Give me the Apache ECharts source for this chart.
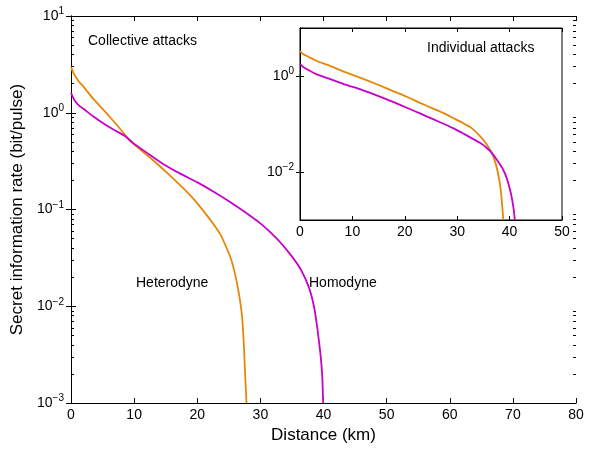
<!DOCTYPE html>
<html><head><meta charset="utf-8">
<script src="https://cdn.jsdelivr.net/npm/echarts@6/dist/echarts.min.js"></script>
<style>html,body{margin:0;padding:0;background:#fff}#c{width:595px;height:449px}</style>
</head><body><div id="c"></div>
<script>
// Main panel (collective attacks)
const mainHetX = [0, 0.3, 0.6, 1.2, 2.2, 3.5, 5.4, 7.4, 9.4, 12.5, 15.7, 18.9, 21.5, 23.7, 25.2, 26.0, 26.6, 27.1, 27.4, 27.6, 27.8];
const mainHetY = [2.96, 2.65, 2.44, 2.12, 1.79, 1.40, 1.03, 0.73, 0.51, 0.345, 0.224, 0.140, 0.0875, 0.0547, 0.0329, 0.0214, 0.0135, 0.0078, 0.0038, 0.0019, 0.001];
const mainHomX = [0, 0.3, 0.6, 1.2, 2.2, 3.5, 5.4, 7.0, 8.6, 9.9, 12.3, 14.65, 17.3, 19.95, 22.6, 25.2, 27.6, 30.0, 32.5, 34.8, 36.4, 37.7, 38.5, 39.0, 39.5, 39.8, 39.95];
const mainHomY = [1.61, 1.45, 1.33, 1.20, 1.07, 0.92, 0.755, 0.655, 0.573, 0.483, 0.375, 0.294, 0.235, 0.192, 0.153, 0.12, 0.094, 0.072, 0.051, 0.034, 0.024, 0.0156, 0.0099, 0.0061, 0.0033, 0.0019, 0.001];
// Inset (individual attacks)
const insHetX = [0, 0.5, 1.6, 3.2, 5.4, 8.5, 11.8, 15.0, 18.1, 20.5, 22.9, 25.4, 27.4, 29.3, 31.0, 32.7, 34.4, 35.6, 36.6, 37.3, 37.8, 38.2, 38.5, 38.8];
const insHetY = [3.31, 2.92, 2.51, 2.05, 1.69, 1.22, 0.89, 0.65, 0.468, 0.365, 0.275, 0.209, 0.168, 0.132, 0.106, 0.083, 0.055, 0.038, 0.0251, 0.0155, 0.0093, 0.0052, 0.0026, 0.001];
const insHomX = [0, 0.5, 1.6, 3.2, 5.4, 8.5, 11.8, 15.0, 18.1, 20.5, 22.9, 25.4, 27.4, 29.3, 31.8, 34.4, 35.6, 36.6, 37.8, 38.8, 39.5, 40.1, 40.5, 40.8, 41.0];
const insHomY = [1.78, 1.58, 1.33, 1.08, 0.89, 0.67, 0.513, 0.38, 0.278, 0.215, 0.166, 0.126, 0.101, 0.081, 0.058, 0.040, 0.032, 0.0251, 0.0165, 0.011, 0.0072, 0.0042, 0.0026, 0.0016, 0.001];
const mainXTicks = [0, 10, 20, 30, 40, 50, 60, 70, 80];
const insXTicks = [0, 10, 20, 30, 40, 50];
const mainYDecades = [-3, -2, -1, 0, 1];
const insYLabelDecades = [-2, 0];

const ORANGE = '#E6870A', MAGENTA = '#C800C8';
const FONT = '"Liberation Sans", Arial, sans-serif';
const zip = (xs, ys) => xs.map((x, i) => [x, ys[i]]);

function powLabel(v) {
  const e = Math.round(Math.log10(v));
  const s = e < 0 ? '\u2212' + (-e) : String(e);
  return '{b|10}{s|' + s + '}';
}
const rich = {
  b: {fontSize: 14, fontFamily: FONT, color: '#000', lineHeight: 16},
  s: {fontSize: 10, fontFamily: FONT, color: '#000', padding: [0, 0, 9, 0], lineHeight: 16}
};

const mainMajorVals = mainYDecades.map(e => Math.pow(10, e));
const minorVals = [];
for (let k = -3; k < 1; k++) for (let m = 2; m <= 9; m++) minorVals.push(m * Math.pow(10, k));
const insTickVals = insYLabelDecades.map(e => Math.pow(10, e));

const chart = echarts.init(document.getElementById('c'), null, {renderer: 'canvas'});
const axLine = {show: true, lineStyle: {color: '#000', width: 1}};
const noLine = {show: false};
function minorAxis(pos) {
  return {gridIndex: 0, type: 'log', min: 1e-3, max: 10, logBase: 10, position: pos,
    axisLine: noLine,
    axisTick: {show: true, inside: true, length: 3, customValues: minorVals, lineStyle: {color: '#000'}},
    axisLabel: {show: false}, splitLine: {show: false}};
}
const option = {
  animation: false,
  backgroundColor: '#fff',
  grid: [
    {left: 71, right: 19, top: 16, bottom: 41, show: false},
    {left: 300, right: 33, top: 28, bottom: 229, show: true, backgroundColor: '#fff', borderColor: '#000', borderWidth: 1, z: 5}
  ],
  xAxis: [
    {gridIndex: 0, type: 'value', min: 0, max: 80, interval: 10, position: 'bottom',
     axisLine: axLine, axisTick: {inside: true, length: 5, lineStyle: {color: '#000'}},
     axisLabel: {fontSize: 14, fontFamily: FONT, color: '#000', margin: 5,
       formatter: v => mainXTicks.includes(v) ? String(v) : ''},
     splitLine: {show: false},
     name: 'Distance (km)', nameLocation: 'middle', nameGap: 23,
     nameTextStyle: {fontSize: 17, fontFamily: FONT, color: '#000'}},
    {gridIndex: 0, type: 'value', min: 0, max: 80, interval: 10, position: 'top',
     axisLine: axLine, axisTick: {inside: true, length: 5, lineStyle: {color: '#000'}},
     axisLabel: {show: false}, splitLine: {show: false}},
    {gridIndex: 1, type: 'value', min: 0, max: 50, interval: 10, position: 'bottom', z: 6,
     axisLine: axLine, axisTick: {inside: true, length: 4, lineStyle: {color: '#000'}},
     axisLabel: {fontSize: 14, fontFamily: FONT, color: '#000', margin: 5,
       formatter: v => insXTicks.includes(v) ? String(v) : ''},
     splitLine: {show: false}},
    {gridIndex: 1, type: 'value', min: 0, max: 50, interval: 10, position: 'top', z: 6,
     axisLine: axLine, axisTick: {inside: true, length: 4, lineStyle: {color: '#000'}},
     axisLabel: {show: false}, splitLine: {show: false}}
  ],
  yAxis: [
    {gridIndex: 0, type: 'log', min: 1e-3, max: 10, logBase: 10, position: 'left',
     axisLine: axLine, axisTick: {inside: true, length: 5, customValues: mainMajorVals, lineStyle: {color: '#000'}},
     axisLabel: {customValues: mainMajorVals, formatter: v => powLabel(v), rich: rich, margin: 7},
     splitLine: {show: false},
     name: 'Secret information rate (bit/pulse)', nameLocation: 'middle', nameGap: 32,
     nameTextStyle: {fontSize: 17, fontFamily: FONT, color: '#000'}},
    {gridIndex: 0, type: 'log', min: 1e-3, max: 10, logBase: 10, position: 'right',
     axisLine: axLine, axisTick: {inside: true, length: 5, customValues: mainMajorVals, lineStyle: {color: '#000'}},
     axisLabel: {show: false}, splitLine: {show: false}},
    {gridIndex: 1, type: 'log', min: 1e-3, max: 10, logBase: 10, position: 'left', z: 6,
     axisLine: axLine, axisTick: {inside: true, length: 4, customValues: insTickVals, lineStyle: {color: '#000'}},
     axisLabel: {customValues: insTickVals, formatter: v => powLabel(v), rich: rich, margin: 6},
     splitLine: {show: false}},
    {gridIndex: 1, type: 'log', min: 1e-3, max: 10, logBase: 10, position: 'right', z: 6,
     axisLine: axLine, axisTick: {inside: true, length: 4, customValues: insTickVals, lineStyle: {color: '#000'}},
     axisLabel: {show: false}, splitLine: {show: false}},
    minorAxis('left'),
    minorAxis('right')
  ],
  graphic: [
    {type: 'text', left: 88, top: 34, z: 10, style: {text: 'Collective attacks', font: '14px ' + FONT, fill: '#000'}},
    {type: 'text', left: 427, top: 41, z: 10, style: {text: 'Individual attacks', font: '14px ' + FONT, fill: '#000'}},
    {type: 'text', left: 136, top: 276, z: 10, style: {text: 'Heterodyne', font: '14px ' + FONT, fill: '#000'}},
    {type: 'text', left: 309, top: 276, z: 10, style: {text: 'Homodyne', font: '14px ' + FONT, fill: '#000'}}
  ],
  series: [
    {type: 'line', xAxisIndex: 0, yAxisIndex: 0, data: zip(mainHetX, mainHetY), showSymbol: false,
     smooth: 0.15, lineStyle: {color: ORANGE, width: 1.8}, z: 2},
    {type: 'line', xAxisIndex: 0, yAxisIndex: 0, data: zip(mainHomX, mainHomY), showSymbol: false,
     smooth: 0.15, lineStyle: {color: MAGENTA, width: 1.8}, z: 2},
    {type: 'line', xAxisIndex: 2, yAxisIndex: 2, data: zip(insHetX, insHetY), showSymbol: false,
     smooth: 0.15, lineStyle: {color: ORANGE, width: 1.8}, z: 7},
    {type: 'line', xAxisIndex: 2, yAxisIndex: 2, data: zip(insHomX, insHomY), showSymbol: false,
     smooth: 0.15, lineStyle: {color: MAGENTA, width: 1.8}, z: 7}
  ]
};
chart.setOption(option);
</script></body></html>
